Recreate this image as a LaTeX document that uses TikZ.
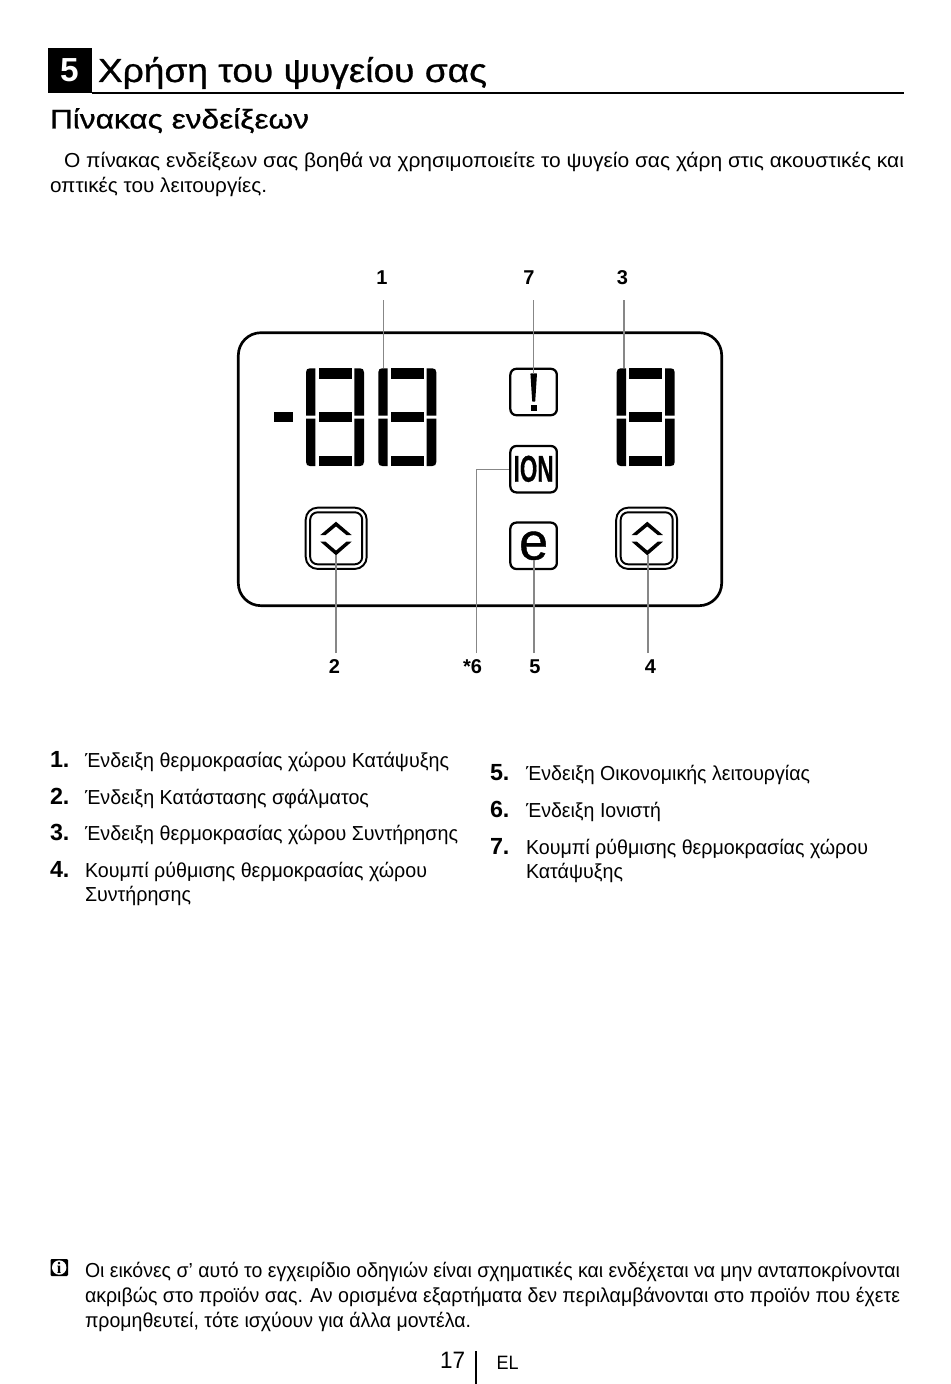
\documentclass[tikz,border=0pt]{standalone}
\usepackage{graphicx}
\usepackage{fontspec}
\setmainfont{Liberation Sans}
\newfontfamily\medfont[FakeBold=0.7]{Liberation Sans}
\newfontfamily\ecofont[FakeBold=0.8]{Liberation Sans}
\newfontfamily\ionfont[BoldFeatures={FakeBold=0.6}]{Liberation Sans}
\newfontfamily\infofont{Liberation Serif}
\usetikzlibrary{calc}
% one picture unit = one reference pixel
\newcommand{\fl}[5]{\node[anchor=base west,inner sep=0pt,outer sep=0pt] (#1) at (#2,#3) {\resizebox{\dimexpr #4pt*3/4\relax}{\height}{\fontsize{15.2}{18}\selectfont #5}};}
\newcommand{\tl}[6]{\node[anchor=base west,inner sep=0pt,outer sep=0pt] (#1) at (#2,#3) {\resizebox{\dimexpr #4pt*3/4\relax}{\height}{#6#5}};}
\newcommand{\num}[4]{\node[anchor=base west,inner sep=0pt,outer sep=0pt] (#1) at (#2,#3) {\fontsize{17.5}{20}\selectfont\bfseries #4};}
\newcommand{\digit}[1]{%
\begin{scope}[shift={(#1,0)}]
\fill (315.3,415.7) -- (306,415.7) -- (306,372.3) .. controls (306,369.5) and (307.5,368.3) .. (310,368.3) -- (315.3,368.3) -- cycle;
\fill (315.3,418.7) -- (306,418.7) -- (306,462) .. controls (306,464.8) and (307.5,466) .. (310,466) -- (315.3,466) -- cycle;
\fill (354.3,415.7) -- (364,415.7) -- (364,372.3) .. controls (364,369.5) and (362.5,368.3) .. (360,368.3) -- (354.3,368.3) -- cycle;
\fill (354.3,418.7) -- (364,418.7) -- (364,462) .. controls (364,464.8) and (362.5,466) .. (360,466) -- (354.3,466) -- cycle;
\fill (318.7,368.3) rectangle (351.7,378.7);
\fill (318.7,412.3) rectangle (351.7,422);
\fill (318.7,455.7) rectangle (351.7,466);
\end{scope}}
\newcommand{\chevrons}[1]{%
\fill (#1-15.6,535) -- (#1,521.7) -- (#1+15.6,535) -- (#1+10.4,535) -- (#1,526.4) -- (#1-10.4,535) -- cycle;
\fill (#1-15.6,541.7) -- (#1,555.3) -- (#1+15.6,541.7) -- (#1+10.4,541.7) -- (#1,550.6) -- (#1-10.4,541.7) -- cycle;}
\tikzset{
  leader/.style={draw=black!47,line width=0.8pt},
  iconbox/.style={draw,line width=1.7pt,rounded corners=4.5pt,minimum width=46.5*0.75pt,minimum height=46.4*0.75pt,inner sep=0pt},
  btnouter/.style={draw,line width=1.45pt,rounded corners=9pt,minimum width=61*0.75pt,minimum height=61.3*0.75pt,inner sep=0pt},
  btninner/.style={draw,line width=1.45pt,rounded corners=5.5pt,minimum width=52*0.75pt,minimum height=52*0.75pt,inner sep=0pt},
  callout/.style={inner sep=0pt,font=\fontsize{15}{18}\selectfont\bfseries},
}
\begin{document}
\begin{tikzpicture}[x=0.75pt,y=-0.75pt]
\useasboundingbox (0,0) rectangle (950,1384);
\fill[white] (0,0) rectangle (950,1384);
% heading
\node[fill=black,inner sep=0pt,minimum width=44*0.75pt,minimum height=45*0.75pt] (chapbox) at (70,70.5) {};
\node[text=white,inner sep=0pt,anchor=base,font=\fontsize{25}{28}\selectfont\bfseries] (chapnum) at (69.5,81.5) {5};
\coordinate (rulestart) at (92,93);
\coordinate (ruleend) at (904,93);
\draw[line width=1.6pt] (rulestart) -- (ruleend);
\tl{title}{98}{82}{389}{Χρήση του ψυγείου σας}{\fontsize{25}{30}\selectfont\medfont}
\tl{sect}{50}{128.5}{259}{Πίνακας ενδείξεων}{\fontsize{20.3}{24}\selectfont\medfont}
\fl{b1}{64}{168}{840}{Ο πίνακας ενδείξεων σας βοηθά να χρησιμοποιείτε το ψυγείο σας χάρη στις ακουστικές και}
\fl{b2}{50}{192.5}{217}{οπτικές του λειτουργίες.}
% panel
\draw[line width=2pt,rounded corners=17pt] (238.3,332.7) rectangle (721.7,605.7);
\fill (274.3,412.3) rectangle (292.7,422);
\digit{0}\digit{72.3}\digit{310.7}
\node[iconbox] (warn) at (533.6,392) {};
\node[iconbox] (ion) at (533.6,469.2) {};
\node[inner sep=0pt,anchor=base,font=\fontsize{28}{30}\selectfont] (iontext) at (533.6,481.7) {\scalebox{0.6}[1]{\ionfont\bfseries ION}};
\node[iconbox] (eco) at (533.6,545.8) {};
\node[inner sep=0pt,anchor=base,font=\fontsize{39}{44}\selectfont\ecofont] (ecoe) at (533.6,559.5) {e};
\fill[rounded corners=0.5pt] (530.4,373.3) -- (537,373.3) -- (535.2,401.7) -- (532.2,401.7) -- cycle;
\fill (530.8,405) rectangle (536.6,410.7);
\node[btnouter] (btnL) at (336.2,538.3) {};
\node[btninner] (btnLi) at (336.2,538.3) {};
\node[btnouter] (btnR) at (646.7,538.3) {};
\node[btninner] (btnRi) at (646.7,538.3) {};
\chevrons{336}
\chevrons{647.3}
% callouts
\node[callout] (n1) at (382,277.7) {1};
\node[callout] (n7) at (529,277.7) {7};
\node[callout] (n3) at (622.5,277.7) {3};
\node[callout] (n2) at (334.5,666.7) {2};
\node[callout] (n6) at (472.5,666.7) {*6};
\node[callout] (n5) at (535,666.7) {5};
\node[callout] (n4) at (650.5,666.7) {4};
\coordinate (a1) at (383.3,300);
\coordinate (a7) at (533.3,300);
\coordinate (a3) at (624,300);
\coordinate (a2) at (336,653);
\coordinate (a6) at (476.5,653);
\coordinate (a5) at (534,653);
\coordinate (a4) at (648,653);
\draw[leader] (a1) -- (a1 |- 0,368.3);
\draw[leader] (a7) -- (533.3,374);
\draw[leader] (a3) -- (a3 |- 0,368.3);
\draw[leader] (a2) -- (336,555.3);
\draw[leader] (a6) |- (ion.west);
\draw[leader] (a5) -- (a5 |- ecoe.base);
\draw[leader] (a4) -- (648,555.3);
% lists
\num{l1n}{50}{767.5}{1.}
\fl{l1}{85}{767.5}{364}{Ένδειξη θερμοκρασίας χώρου Κατάψυξης}
\num{l2n}{50}{804}{2.}
\fl{l2}{85}{804}{284}{Ένδειξη Κατάστασης σφάλματος}
\num{l3n}{50}{840.5}{3.}
\fl{l3}{85}{840.5}{373}{Ένδειξη θερμοκρασίας χώρου Συντήρησης}
\num{l4n}{50}{877.5}{4.}
\fl{l4}{85}{877}{342}{Κουμπί ρύθμισης θερμοκρασίας χώρου}
\fl{l4b}{85}{901.5}{106}{Συντήρησης}
\num{r5n}{490}{780.5}{5.}
\fl{r5}{526}{780.5}{284}{Ένδειξη Οικονομικής λειτουργίας}
\num{r6n}{490}{817.5}{6.}
\fl{r6}{526}{817}{135}{Ένδειξη Ιονιστή}
\num{r7n}{490}{854}{7.}
\fl{r7}{526}{854}{342}{Κουμπί ρύθμισης θερμοκρασίας χώρου}
\fl{r7b}{526}{878.5}{97}{Κατάψυξης}
% note
\fill[rounded corners=0.8pt] (50.5,1259) rectangle (68,1276);
\fill[white] (59.2,1267.5) circle[radius=5.4pt];
\node[inner sep=0pt,anchor=base,font=\fontsize{12}{12}\selectfont\infofont\bfseries] (infoi) at (59.2,1273.4) {i};
\fl{n1l}{85}{1277.5}{815}{Οι εικόνες σ' αυτό το εγχειρίδιο οδηγιών είναι σχηματικές και ενδέχεται να μην ανταποκρίνονται}
\fl{n2l}{85}{1302.5}{815}{ακριβώς στο προϊόν σας. Αν ορισμένα εξαρτήματα δεν περιλαμβάνονται στο προϊόν που έχετε}
\fl{n3l}{85}{1327}{386}{προμηθευτεί, τότε ισχύουν για άλλα μοντέλα.}
% footer
\tl{pg}{440}{1368.5}{25}{17}{\fontsize{17.8}{20}\selectfont}
\coordinate (bartop) at (475.5,1351);
\coordinate (barend) at (475.5,1384);
\draw[line width=1.5pt] (bartop) -- (barend);
\tl{lang}{496.5}{1369}{22}{EL}{\fontsize{14.5}{16}\selectfont}
\end{tikzpicture}
\end{document}
